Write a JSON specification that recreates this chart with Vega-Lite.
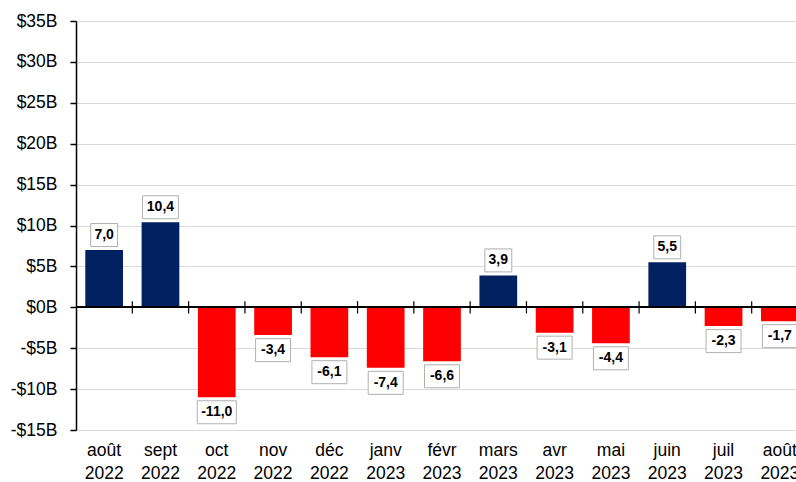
{
  "$schema": "https://vega.github.io/schema/vega-lite/v6.json",
  "width": 732,
  "height": 409,
  "autosize": {"type": "none"},
  "padding": {"left": 76, "top": 21, "right": 0, "bottom": 52},
  "config": {
    "view": {"stroke": null},
    "font": "Liberation Sans",
    "locale": {"number": {"decimal": ",", "thousands": " ", "grouping": [3], "currency": ["$", ""], "minus": "-"}}
  },
  "data": {"values": [
    {"month": "août 2022", "value": 7.0},
    {"month": "sept 2022", "value": 10.4},
    {"month": "oct 2022", "value": -11.0},
    {"month": "nov 2022", "value": -3.4},
    {"month": "déc 2022", "value": -6.1},
    {"month": "janv 2023", "value": -7.4},
    {"month": "févr 2023", "value": -6.6},
    {"month": "mars 2023", "value": 3.9},
    {"month": "avr 2023", "value": -3.1},
    {"month": "mai 2023", "value": -4.4},
    {"month": "juin 2023", "value": 5.5},
    {"month": "juil 2023", "value": -2.3},
    {"month": "août 2023", "value": -1.7}
  ]},
  "layer": [
    {
      "mark": {"type": "bar"},
      "encoding": {
        "x": {"field": "month", "type": "nominal", "sort": null,
          "scale": {"paddingInner": 0.33, "paddingOuter": 0.165},
          "axis": {"title": null, "labelAngle": 0, "domain": false, "ticks": false,
            "labelExpr": "split(datum.label, ' ')", "labelFontSize": 17.5, "labelColor": "#000",
            "labelPadding": 11, "labelLineHeight": 23}},
        "y": {"field": "value", "type": "quantitative",
          "scale": {"domain": [-15, 35], "nice": false, "zero": false},
          "axis": {"title": null, "values": [-15, -10, -5, 0, 5, 10, 15, 20, 25, 30, 35],
            "labelExpr": "(datum.value < 0 ? '-$' : '$') + abs(datum.value) + 'B'",
            "domainColor": "#000", "domainWidth": 1.5, "tickColor": "#000", "tickSize": 6, "tickWidth": 1.5,
            "labelPadding": 13, "labelFontSize": 17.5, "labelColor": "#000",
            "grid": true, "gridColor": "#d9d9d9", "gridWidth": 1}},
        "color": {"condition": {"test": "datum.value >= 0", "value": "#002060"}, "value": "#ff0000"}
      }
    },
    {
      "mark": {"type": "rule", "color": "#000", "strokeWidth": 1.5},
      "encoding": {"y": {"datum": 0}}
    },
    {
      "mark": {"type": "rule", "color": "#000", "strokeWidth": 1.2},
      "encoding": {
        "x": {"field": "month", "type": "nominal", "sort": null, "bandPosition": 1.2463},
        "y": {"datum": -0.75},
        "y2": {"datum": 0.75}
      }
    },
    {
      "transform": [{"filter": "datum.value >= 0"}],
      "mark": {"type": "point", "filled": true, "fill": "#fff", "stroke": "#b0b0b0", "strokeWidth": 1, "opacity": 1, "fillOpacity": 1, "strokeOpacity": 1, "size": 529, "yOffset": -15},
      "encoding": {
        "x": {"field": "month", "type": "nominal", "sort": null},
        "y": {"field": "value", "type": "quantitative"},
        "shape": {"condition": {"test": "datum.value >= 10", "value": "M-1.56,-1H1.56V1H-1.56Z"}, "value": "M-1.17,-1H1.17V1H-1.17Z"}
      }
    },
    {
      "transform": [{"filter": "datum.value < 0"}],
      "mark": {"type": "point", "filled": true, "fill": "#fff", "stroke": "#b0b0b0", "strokeWidth": 1, "opacity": 1, "fillOpacity": 1, "strokeOpacity": 1, "size": 529, "yOffset": 15},
      "encoding": {
        "x": {"field": "month", "type": "nominal", "sort": null},
        "y": {"field": "value", "type": "quantitative"},
        "shape": {"condition": {"test": "datum.value <= -10", "value": "M-1.7,-1H1.7V1H-1.7Z"}, "value": "M-1.52,-1H1.52V1H-1.52Z"}
      }
    },
    {
      "transform": [{"filter": "datum.value >= 0"}],
      "mark": {"type": "text", "fontWeight": "bold", "fontSize": 14, "color": "#000", "baseline": "middle", "yOffset": -15},
      "encoding": {
        "x": {"field": "month", "type": "nominal", "sort": null},
        "y": {"field": "value", "type": "quantitative"},
        "text": {"field": "value", "type": "quantitative", "format": ".1f"}
      }
    },
    {
      "transform": [{"filter": "datum.value < 0"}],
      "mark": {"type": "text", "fontWeight": "bold", "fontSize": 14, "color": "#000", "baseline": "middle", "yOffset": 15},
      "encoding": {
        "x": {"field": "month", "type": "nominal", "sort": null},
        "y": {"field": "value", "type": "quantitative"},
        "text": {"field": "value", "type": "quantitative", "format": ".1f"}
      }
    }
  ]
}
